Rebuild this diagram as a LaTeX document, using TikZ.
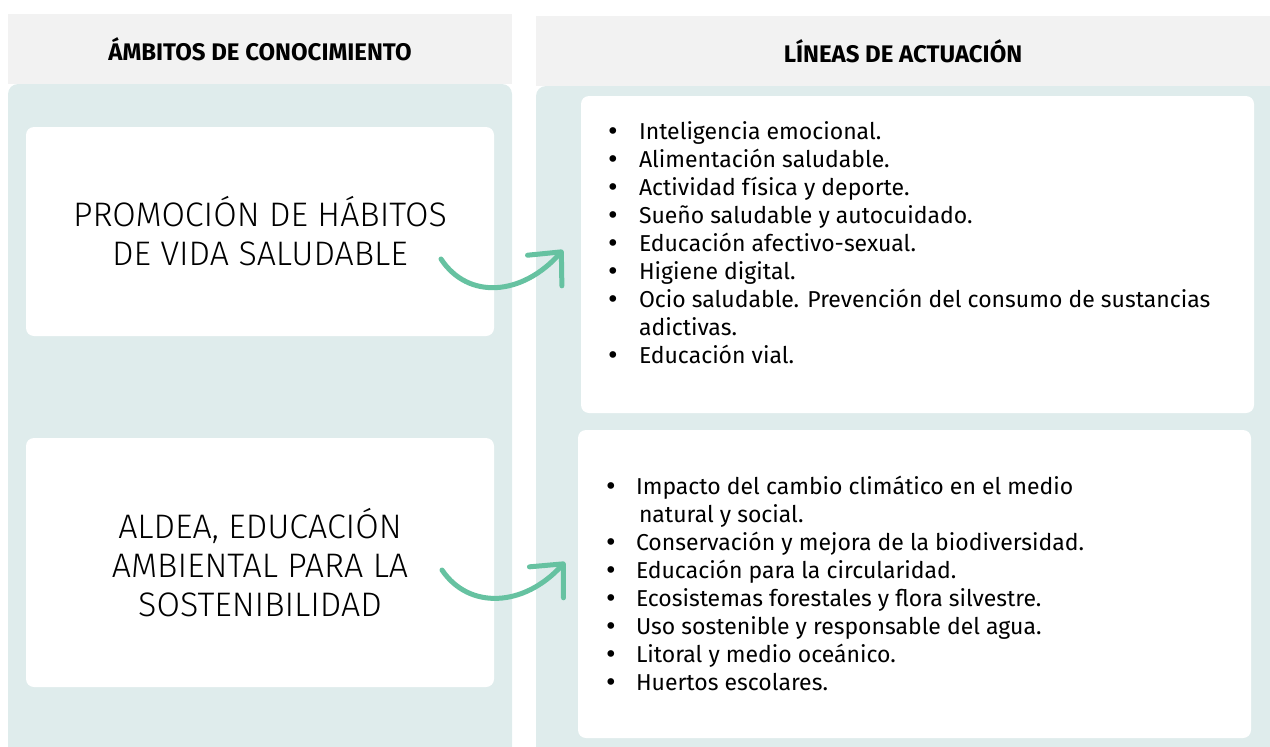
\documentclass[tikz,border=0pt]{standalone}
\usepackage{fontspec}
\setmainfont{Fira Sans}
\newfontfamily\lightfont{Fira Sans Light}
\newfontfamily\symfont{DejaVu Sans}
\usepackage{tikz}
\usetikzlibrary{arrows.meta,positioning}
\definecolor{headgray}{HTML}{F2F2F2}
\definecolor{paneteal}{HTML}{DFECEC}
\definecolor{arrowgreen}{HTML}{66C2A1}
\newcommand{\bl}{\makebox[0pt]{\symfont •}}

\begin{document}
\begin{tikzpicture}[x=1pt, y=1pt,
    every node/.style={inner sep=0pt, outer sep=0pt},
    header/.style={rectangle, fill=headgray, minimum height=70pt, font=\bfseries\fontsize{24}{28}\selectfont},
    panel/.style={rectangle, fill=paneteal, rounded corners=10pt},
    card/.style={rectangle, fill=white, rounded corners=8pt},
    topic/.style={align=center, font=\lightfont\fontsize{34}{39}\selectfont},
    items/.style={anchor=base west, font=\fontsize{23}{28}\selectfont},
    curvearrow/.style={draw=arrowgreen, line width=5pt, line cap=round,
      -{Straight Barb[length=25pt, width=46pt, round]}}]

  \useasboundingbox (0,0) rectangle (1270,-747);
  \clip (0,0) rectangle (1270,-747);

  % column headers
  \node[header, minimum width=504pt] (headL) at (260,-49) {ÁMBITOS DE CONOCIMIENTO};
  \node[header, minimum width=734pt] (headR) at (903,-51) {LÍNEAS DE ACTUACIÓN};

  % background panels
  \node[panel, minimum width=504pt, minimum height=690pt, anchor=north] (panelL) at (headL.south) {};
  \node[panel, minimum width=744pt, minimum height=690pt, anchor=north west] (panelR) at (headR.south west) {};

  % left cards
  \node[card, topic, minimum width=468pt, minimum height=209pt] (topic1) at (260,-231.5)
    {PROMOCIÓN DE HÁBITOS\\DE VIDA SALUDABLE};
  \node[card, topic, minimum width=468pt, minimum height=249pt, below=102pt of topic1] (topic2)
    {ALDEA, EDUCACIÓN\\AMBIENTAL PARA LA\\SOSTENIBILIDAD};

  % right cards
  \node[card, minimum width=673pt, minimum height=317pt, anchor=north west] (lines1) at (581,-96) {};
  \node[card, minimum width=673pt, minimum height=308pt, anchor=north west] (lines2) at (578,-430) {};

  \node[items] (list1) at (613,-139) {\begin{tabular}[t]{@{}l@{\hspace{26pt}}l@{}}
    \bl & Inteligencia emocional.\\
    \bl & Alimentación saludable.\\
    \bl & Actividad física y deporte.\\
    \bl & Sueño saludable y autocuidado.\\
    \bl & Educación afectivo-sexual.\\
    \bl & Higiene digital.\\
    \bl & Ocio saludable. Prevención del consumo de sustancias\\
        & adictivas.\\
    \bl & Educación vial.
  \end{tabular}};

  \node[items] (list2) at (611,-494) {\begin{tabular}[t]{@{}l@{\hspace{25pt}}l@{}}
    \bl & Impacto del cambio climático en el medio\\
        & \hspace*{3pt}natural y social.\\
    \bl & Conservación y mejora de la biodiversidad.\\
    \bl & Educación para la circularidad.\\
    \bl & Ecosistemas forestales y flora silvestre.\\
    \bl & Uso sostenible y responsable del agua.\\
    \bl & Litoral y medio oceánico.\\
    \bl & Huertos escolares.
  \end{tabular}};

  % arrows
  \coordinate (a1s) at (441,-259);
  \coordinate (a1e) at (563,-250);
  \coordinate (a2s) at (442,-570);
  \coordinate (a2e) at (565,-562);
  \draw[curvearrow] (a1s) .. controls (468,-300) and (522,-296) .. (a1e);
  \draw[curvearrow] (a2s) .. controls (469,-610) and (524,-607) .. (a2e);

\end{tikzpicture}
\end{document}
